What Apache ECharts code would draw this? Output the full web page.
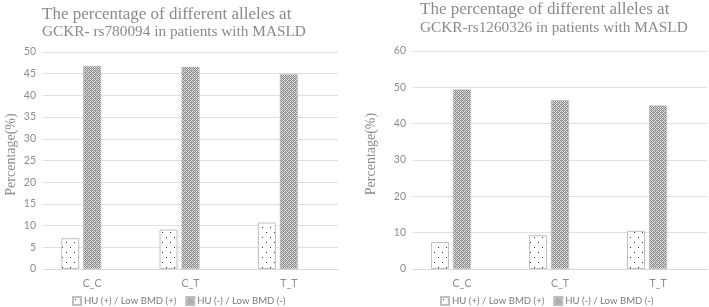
<!DOCTYPE html>
<html><head><meta charset="utf-8">
<script src="https://cdn.jsdelivr.net/npm/echarts@6/dist/echarts.min.js"></script>
<style>html,body{margin:0;padding:0;background:#fff}#c{width:709px;height:307px}</style>
</head><body><div id="c"></div>
<script>
const categories = ['C_C', 'C_T', 'T_T'];
const seriesNames = ['HU (+) / Low BMD (+)', 'HU (-) / Low BMD (-)'];
const titleLine1 = 'The percentage of different alleles at';
const leftTitleLine2 = 'GCKR- rs780094 in patients with MASLD';
const rightTitleLine2 = 'GCKR-rs1260326 in patients with MASLD';
const leftPos = [7.1, 9.1, 10.7];
const leftNeg = [46.8, 46.6, 44.9];
const rightPos = [7.4, 9.3, 10.5];
const rightNeg = [49.4, 46.5, 45.0];
const leftMax = 50, leftStep = 5;
const rightMax = 60, rightStep = 10;

function dotPattern() {
  const c = document.createElement('canvas'); c.width = 8; c.height = 10;
  const g = c.getContext('2d');
  g.fillStyle = '#ffffff'; g.fillRect(0, 0, 8, 10);
  g.fillStyle = '#333333';
  g.fillRect(2, 2, 1, 1); g.fillRect(6, 7, 1, 1);
  return c;
}
function crossPattern() {
  const c = document.createElement('canvas'); c.width = 4; c.height = 4;
  const g = c.getContext('2d');
  g.fillStyle = '#e6e6e6'; g.fillRect(0, 0, 4, 4);
  g.fillStyle = '#8a8a8a';
  g.fillRect(0, 0, 1, 1); g.fillRect(2, 0, 1, 1);
  g.fillRect(1, 1, 1, 1); g.fillRect(3, 1, 1, 1);
  g.fillRect(0, 2, 1, 1); g.fillRect(2, 2, 1, 1);
  g.fillRect(1, 3, 1, 1); g.fillRect(3, 3, 1, 1);
  g.fillStyle = '#b0b0b0';
  g.fillRect(1, 0, 1, 1); g.fillRect(3, 2, 1, 1);
  return c;
}
const dotFill = { image: dotPattern(), repeat: 'repeat' };
const crossFill = { image: crossPattern(), repeat: 'repeat' };

const txtGray = '#8c8c8c';
const titleGray = '#8a8a8a';
const sans = 'Lato, "Open Sans", sans-serif';
const serif = '"Liberation Serif", "DejaVu Serif", serif';

function yAxis(idx, max, step, gap) {
  return {
    type: 'value', gridIndex: idx, min: 0, max: max, interval: step,
    name: 'Percentage(%)', nameLocation: 'middle', nameGap: gap,
    nameTextStyle: { fontFamily: serif, fontSize: 14, color: txtGray, padding: [0, 0, 0, 12] },
    axisLine: { show: false }, axisTick: { show: false },
    axisLabel: { color: txtGray, fontFamily: sans, fontSize: 10.5, margin: 7 },
    splitLine: { lineStyle: { color: '#e0e0e0', width: 1 } }
  };
}
function xAxis(idx) {
  return {
    type: 'category', gridIndex: idx, data: categories,
    axisLine: { lineStyle: { color: '#d9d9d9' } }, axisTick: { show: false },
    axisLabel: { color: txtGray, fontFamily: sans, fontSize: 10.5, margin: 9 }
  };
}
function bars(idx, pos, neg) {
  const common = { type: 'bar', xAxisIndex: idx, yAxisIndex: idx, barWidth: 18, barGap: '22%', animation: false };
  return [
    Object.assign({}, common, { name: seriesNames[0], data: pos,
      itemStyle: { color: dotFill, borderColor: '#bfbfbf', borderWidth: 1 } }),
    Object.assign({}, common, { name: seriesNames[1], data: neg,
      itemStyle: { color: crossFill, borderColor: '#bdbdbd', borderWidth: 0.5 } }),
    Object.assign({}, common, { name: 'hidden', data: ['-', '-', '-'] })
  ];
}
function legend(left) {
  return {
    left: left, top: 296, padding: 0, itemWidth: 8, itemHeight: 8, itemGap: 9,
    data: seriesNames, icon: 'rect',
    textStyle: { color: '#7a7a7a', fontFamily: sans, fontSize: 9.6, padding: [0, 0, 0, -2] }
  };
}
function title(text, left, top, size) {
  return { text: text, left: left, top: top, padding: 0,
    textStyle: { fontFamily: serif, fontSize: size, fontWeight: 'normal', color: titleGray, lineHeight: size } };
}

const chart = echarts.init(document.getElementById('c'), null, { renderer: 'canvas' });
chart.setOption({
  animation: false,
  title: [
    title(titleLine1, 42, 6, 17),
    title(leftTitleLine2, 42, 24, 15.3),
    title(titleLine1, 420, 1, 17),
    title(rightTitleLine2, 420, 20, 15.3)
  ],
  grid: [
    { left: 43, right: 371, top: 52, bottom: 38 },
    { left: 413, right: 2, top: 51, bottom: 38 }
  ],
  xAxis: [xAxis(0), xAxis(1)],
  yAxis: [yAxis(0, leftMax, leftStep, 25), yAxis(1, rightMax, rightStep, 35)],
  legend: [legend(72), legend(440)],
  series: bars(0, leftPos, leftNeg).concat(bars(1, rightPos, rightNeg))
});
</script></body></html>
